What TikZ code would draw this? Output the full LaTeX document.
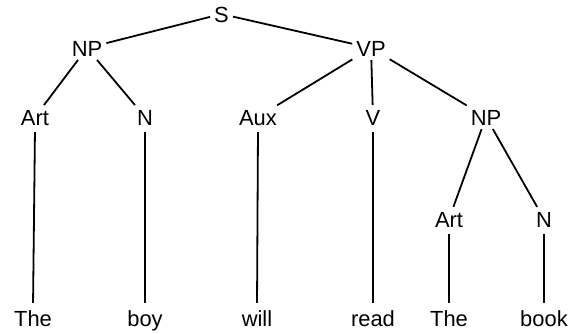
\documentclass[tikz,border=0pt]{standalone}
\usepackage{fontspec}
\setmainfont{Liberation Sans}
\begin{document}
\begin{tikzpicture}[x=1bp,y=-1bp,
  lbl/.style={anchor=base,inner sep=3bp,text height=16bp,text depth=0pt,
    font=\fontsize{22}{26}\selectfont},
  branch/.style={line width=1.8bp,shorten <=1bp,shorten >=1bp},
  stem/.style={line width=1.8bp,shorten <=4bp,shorten >=4bp}]
\useasboundingbox (0,0) rectangle (572,333);
% phrase structure
\node[lbl] (S)   at (221.5,22) {S};
\node[lbl] (NP1) at (87,56)    {NP};
\node[lbl] (VP)  at (371,56)   {VP};
\node[lbl] (Art1) at (35,125)  {Art};
\node[lbl] (N1)  at (145,125)  {N};
\node[lbl] (Aux) at (258,125)  {Aux};
\node[lbl] (V)   at (373,125)  {V};
\node[lbl] (NP2) at (486,125)  {NP};
\node[lbl] (Art2) at (449,227) {Art};
\node[lbl] (N2)  at (544,227)  {N};
% words
\node[lbl] (w1) at (33,326)  {The};
\node[lbl] (w2) at (145,326) {boy};
\node[lbl] (w3) at (257,326) {will};
\node[lbl] (w4) at (373,326) {read};
\node[lbl] (w5) at (449,326) {The};
\node[lbl] (w6) at (544,326) {book};
% branches
\draw[branch] (S) -- (NP1);
\draw[branch] (S) -- (VP);
\draw[branch] (NP1) -- (Art1);
\draw[branch] (NP1) -- (N1);
\draw[branch] (VP) -- (Aux);
\draw[branch] (VP) -- (V);
\draw[branch] (VP) -- (NP2);
\draw[branch] (NP2) -- (Art2);
\draw[branch] (NP2) -- (N2);
% lexical stems
\draw[stem] (Art1.south) -- (w1.north);
\draw[stem] (N1.south) -- (w2.north);
\draw[stem] (Aux.south) -- (w3.north);
\draw[stem] (V.south) -- (w4.north);
\draw[stem] (Art2.south) -- (w5.north);
\draw[stem] (N2.south) -- (w6.north);
\end{tikzpicture}
\end{document}
